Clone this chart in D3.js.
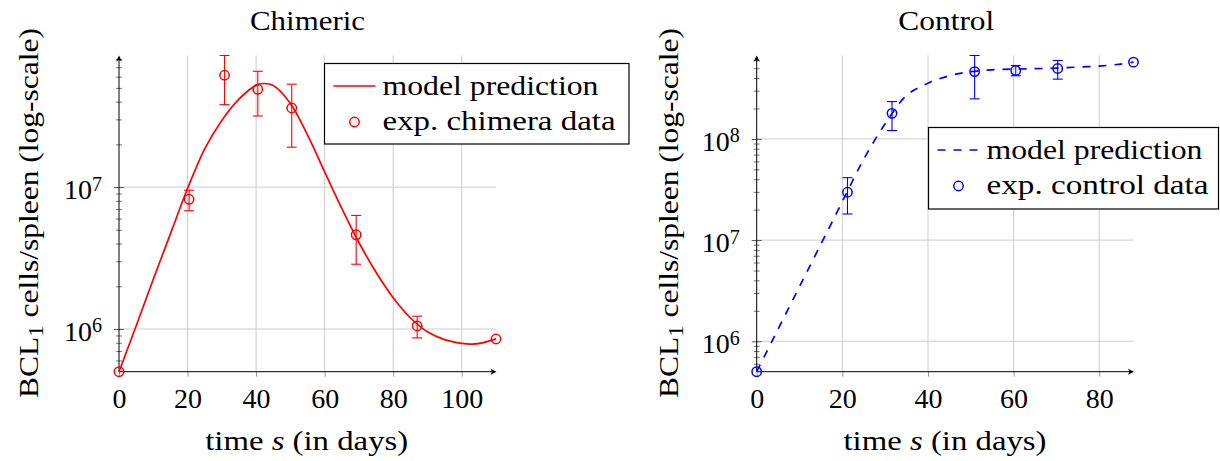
<!DOCTYPE html>
<html><head><meta charset="utf-8">
<script src="https://cdn.jsdelivr.net/npm/d3@7"></script>
<style>
body{margin:0;background:#fff}
svg{display:block}
svg text{font-family:"Liberation Serif","DejaVu Serif",serif !important;fill:#000}
</style>
</head><body>
<svg id="c" width="1220" height="461" font-family="Liberation Serif, DejaVu Serif, serif"></svg>
<script>
// ---------- data ----------
// Chimeric panel (experimental points)
const chimDays  = [0, 20.45, 30.8, 40.5, 50.4, 69.2, 87.0, 110];
const chimCells = [5.0e5, 8.2e6, 6.14e7, 4.89e7, 3.61e7, 4.61e6, 1.05e6, 8.5e5];
const chimErrHi = [null, 9.5e6, 8.46e7, 6.55e7, 5.31e7, 6.31e6, 1.23e6, null];
const chimErrLo = [null, 6.81e6, 3.81e7, 3.17e7, 1.91e7, 2.86e6, 8.65e5, null];
// Chimeric model prediction
const chimModelDays  = [0, 5, 10, 15, 20, 25, 30, 35, 40, 42, 45, 50, 55, 60, 65, 70, 75, 80, 85, 90, 95, 100, 103, 106, 110];
const chimModelCells = [5.0e5, 1.05e6, 2.24e6, 4.68e6, 9.77e6, 1.86e7, 2.95e7, 4.17e7, 5.21e7, 5.37e7, 5.20e7, 3.89e7, 2.33e7, 1.28e7, 7.08e6, 4.07e6, 2.51e6, 1.66e6, 1.20e6, 9.55e5, 8.41e5, 7.91e5, 7.82e5, 7.98e5, 8.51e5];

// Control panel (experimental points)
const ctrlDays  = [0, 21.2, 31.6, 50.9, 60.5, 70.3, 88];
const ctrlCells = [5.0e5, 2.97e7, 1.79e8, 4.63e8, 4.74e8, 4.97e8, 5.74e8];
const ctrlErrHi = [null, 4.14e7, 2.34e8, 6.68e8, 5.32e8, 5.96e8, null];
const ctrlErrLo = [null, 1.81e7, 1.21e8, 2.49e8, 4.21e8, 3.9e8, null];
// Control model prediction
const ctrlModelDays  = [0, 5, 10, 15, 20, 25, 30, 35, 40, 45, 50, 55, 60, 65, 70, 75, 80, 85, 88];
const ctrlModelCells = [5.0e5, 1.32e6, 3.47e6, 9.12e6, 2.40e7, 6.31e7, 1.41e8, 2.69e8, 3.55e8, 4.22e8, 4.62e8, 4.82e8, 4.90e8, 4.95e8, 5.01e8, 5.13e8, 5.25e8, 5.50e8, 5.74e8];

// tick labels
const chimXTicks = [0, 20, 40, 60, 80, 100];
const ctrlXTicks = [0, 20, 40, 60, 80];
const chimYMajor = [1e6, 1e7];
const ctrlYMajor = [1e6, 1e7, 1e8];

const titles = ["Chimeric", "Control"];
const legendModel = "model prediction";
const legendChim = "exp. chimera data";
const legendCtrl = "exp. control data";

// ---------- drawing ----------
const svg = d3.select("#c");
const FS = 28;
const FF = '"Liberation Serif","DejaVu Serif",serif';

function txt(sel) { return sel.attr("font-family", FF).style("font-family", FF); }

function panel(cfg) {
  const g = svg.append("g");
  const x = d3.scaleLinear().domain([0, d3.max(cfg.days)]).range([cfg.left, cfg.right]);
  const yMin = d3.min(cfg.cells);
  const yMax = d3.max(cfg.errHi.filter(v => v != null));
  const y = d3.scaleLog().domain([yMin, yMax]).range([cfg.bottom, cfg.top]);

  // grid
  g.selectAll(".vg").data(cfg.xTicks.filter(d => d > 0)).join("line")
    .attr("x1", d => x(d)).attr("x2", d => x(d))
    .attr("y1", cfg.top).attr("y2", cfg.bottom)
    .attr("stroke", "#cccccc").attr("stroke-width", 1);
  g.selectAll(".hg").data(cfg.yMajor).join("line")
    .attr("x1", cfg.left).attr("x2", cfg.right)
    .attr("y1", d => y(d)).attr("y2", d => y(d))
    .attr("stroke", "#cccccc").attr("stroke-width", 1);

  // x axis ticks + labels
  const xa = g.append("g").attr("transform", `translate(0,${cfg.bottom})`)
    .call(d3.axisBottom(x).tickValues(cfg.xTicks).tickSize(5).tickFormat(d => d));
  xa.attr("font-family", FF);
  xa.select(".domain").remove();
  xa.selectAll(".tick line").attr("stroke", "#999").attr("stroke-width", 1);
  txt(xa.selectAll(".tick text")).attr("y", 36).attr("dy", 0)
    .style("font-size", FS + "px").attr("fill", "#000");

  // y minor ticks
  const minors = [];
  const lo = Math.floor(Math.log10(yMin)), hi = Math.ceil(Math.log10(yMax));
  for (let e = lo; e <= hi; e++) for (let k = 2; k <= 9; k++) {
    const v = k * Math.pow(10, e);
    if (v > yMin && v <= yMax) minors.push(v);
  }
  const ymi = g.append("g").attr("transform", `translate(${cfg.left},0)`)
    .call(d3.axisLeft(y).tickValues(minors).tickSize(3).tickFormat(""));
  ymi.select(".domain").remove();
  ymi.selectAll(".tick line").attr("x1", -3).attr("x2", 3).attr("stroke", "#555").attr("stroke-width", 0.8);
  const yma = g.append("g").attr("transform", `translate(${cfg.left},0)`)
    .call(d3.axisLeft(y).tickValues(cfg.yMajor).tickSize(5).tickFormat(""));
  yma.select(".domain").remove();
  yma.selectAll(".tick line").attr("x1", -5).attr("x2", 5).attr("stroke", "#444").attr("stroke-width", 0.9);

  // y tick labels 10^n
  cfg.yMajor.forEach(v => {
    const t = txt(g.append("text")).attr("x", cfg.left - 17).attr("y", y(v) + 12)
      .attr("text-anchor", "end").style("font-size", FS + "px");
    t.append("tspan").text("10");
    t.append("tspan").attr("dy", -8.5).style("font-size", "20px").text(Math.round(Math.log10(v)));
  });

  // axis lines with arrows
  g.append("line").attr("x1", cfg.left).attr("x2", cfg.left).attr("y1", cfg.bottom).attr("y2", cfg.top + 2)
    .attr("stroke", "#000").attr("stroke-width", 1);
  g.append("line").attr("x1", cfg.left).attr("x2", cfg.right - 2).attr("y1", cfg.bottom).attr("y2", cfg.bottom)
    .attr("stroke", "#000").attr("stroke-width", 1);
  const tY = cfg.top;
  g.append("path").attr("d", `M${cfg.left},${tY} L${cfg.left - 3},${tY + 6} L${cfg.left},${tY + 4.5} L${cfg.left + 3},${tY + 6} Z`).attr("fill", "#000");
  const tX = cfg.right + 0.5;
  g.append("path").attr("d", `M${tX},${cfg.bottom} L${tX - 6},${cfg.bottom - 3} L${tX - 4.5},${cfg.bottom} L${tX - 6},${cfg.bottom + 3} Z`).attr("fill", "#000");

  // model curve
  const line = d3.line().x((d, i) => x(cfg.mDays[i])).y(d => y(d)).curve(d3.curveCatmullRom.alpha(0.5));
  g.append("path").datum(cfg.mCells).attr("d", line)
    .attr("fill", "none").attr("stroke", cfg.color).attr("stroke-width", 1.7)
    .attr("stroke-dasharray", cfg.dashed ? "8,8" : null);

  // error bars
  const eb = cfg.days.map((d, i) => ({ d, hi: cfg.errHi[i], lo: cfg.errLo[i] })).filter(e => e.hi != null);
  const ebg = g.append("g").attr("stroke", cfg.color).attr("stroke-width", 1.1).attr("fill", "none");
  eb.forEach(e => {
    ebg.append("line").attr("x1", x(e.d)).attr("x2", x(e.d)).attr("y1", y(e.hi)).attr("y2", y(e.lo));
    ebg.append("line").attr("x1", x(e.d) - 5).attr("x2", x(e.d) + 5).attr("y1", y(e.hi)).attr("y2", y(e.hi));
    ebg.append("line").attr("x1", x(e.d) - 5).attr("x2", x(e.d) + 5).attr("y1", y(e.lo)).attr("y2", y(e.lo));
  });

  // data circles
  g.selectAll(".pt").data(cfg.cells).join("circle")
    .attr("cx", (d, i) => x(cfg.days[i])).attr("cy", d => y(d)).attr("r", 4.7)
    .attr("fill", "none").attr("stroke", cfg.color).attr("stroke-width", 1.5);

  // title
  txt(g.append("text")).attr("x", cfg.titleX).attr("y", 30).attr("text-anchor", "middle")
    .attr("textLength", cfg.titleW).attr("lengthAdjust", "spacingAndGlyphs")
    .style("font-size", FS + "px").text(cfg.title);

  // x label
  const xl = txt(g.append("text")).attr("x", cfg.xLabelX).attr("y", 450).attr("text-anchor", "middle")
    .attr("textLength", 203).attr("lengthAdjust", "spacingAndGlyphs").style("font-size", FS + "px");
  xl.append("tspan").text("time ");
  xl.append("tspan").style("font-style", "italic").text("s");
  xl.append("tspan").text(" (in days)");

  // y label
  const yl = txt(g.append("text")).attr("transform", `translate(${cfg.yLabelX},213) rotate(-90)`)
    .attr("text-anchor", "middle").attr("textLength", 370).attr("lengthAdjust", "spacingAndGlyphs")
    .style("font-size", FS + "px");
  yl.append("tspan").text("BCL");
  yl.append("tspan").attr("dy", 5).style("font-size", "20px").text("1");
  yl.append("tspan").attr("dy", -5).text(" cells/spleen (log-scale)");

  // legend
  const L = cfg.leg;
  g.append("rect").attr("x", L.x).attr("y", L.y).attr("width", L.w).attr("height", L.h)
    .attr("fill", "#fff").attr("stroke", "#000").attr("stroke-width", 1.2);
  g.append("line").attr("x1", L.x + 9).attr("x2", L.x + 51).attr("y1", L.y + 22.5).attr("y2", L.y + 22.5)
    .attr("stroke", cfg.color).attr("stroke-width", 1.7).attr("stroke-dasharray", cfg.dashed ? "8,8" : null);
  g.append("circle").attr("cx", L.x + 30).attr("cy", L.y + 58.5).attr("r", 4.7)
    .attr("fill", "none").attr("stroke", cfg.color).attr("stroke-width", 1.5);
  txt(g.append("text")).attr("x", L.x + 58).attr("y", L.y + 31.5).attr("textLength", 216)
    .attr("lengthAdjust", "spacingAndGlyphs").style("font-size", FS + "px").text(legendModel);
  txt(g.append("text")).attr("x", L.x + 58).attr("y", L.y + 66).attr("textLength", L.w2)
    .attr("lengthAdjust", "spacingAndGlyphs").style("font-size", FS + "px").text(cfg.legText);
}

panel({
  days: chimDays, cells: chimCells, errHi: chimErrHi, errLo: chimErrLo,
  mDays: chimModelDays, mCells: chimModelCells,
  xTicks: chimXTicks, yMajor: chimYMajor,
  left: 119, right: 496, top: 55.5, bottom: 371.7,
  color: "#ff0000", dashed: false,
  title: titles[0], titleX: 307.5, titleW: 115,
  xLabelX: 306.7, yLabelX: 38,
  leg: { x: 324.5, y: 63.5, w: 304.5, h: 80.5, w2: 233 }, legText: legendChim
});
panel({
  days: ctrlDays, cells: ctrlCells, errHi: ctrlErrHi, errLo: ctrlErrLo,
  mDays: ctrlModelDays, mCells: ctrlModelCells,
  xTicks: ctrlXTicks, yMajor: ctrlYMajor,
  left: 756.7, right: 1133.5, top: 55.5, bottom: 371.7,
  color: "#0000ff", dashed: true,
  title: titles[1], titleX: 946.3, titleW: 96,
  xLabelX: 945, yLabelX: 678,
  leg: { x: 928.5, y: 127.5, w: 290, h: 81.5, w2: 222 }, legText: legendCtrl
});
</script>
</body></html>
